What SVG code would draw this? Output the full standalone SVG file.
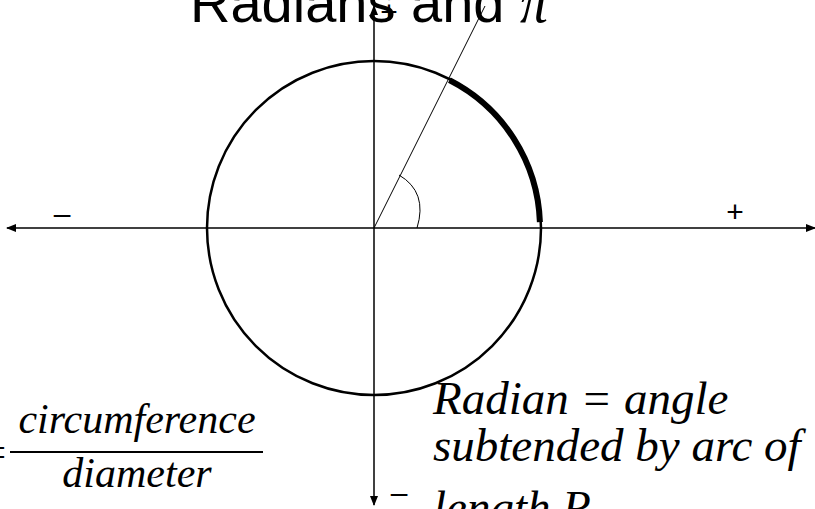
<svg xmlns="http://www.w3.org/2000/svg" width="815" height="509" viewBox="0 0 815 509">
<style>
.ax{stroke:#000;stroke-width:1.5;fill:none}
.thin{stroke:#000;stroke-width:1;fill:none}
.sans{font-family:"Liberation Sans",Arial,sans-serif;fill:#000}
.lbl{font-family:"Liberation Sans",Arial,sans-serif;fill:#000;font-size:30px;text-anchor:middle}
.it{font-family:"Liberation Serif","Times New Roman",serif;font-style:italic;fill:#000}
</style>
<defs>
<marker id="ah" viewBox="0 0 10 8" refX="9" refY="4" markerWidth="10" markerHeight="8" markerUnits="userSpaceOnUse" orient="auto">
<path d="M0,0 L10,4 L0,8 Z" fill="#000"/>
</marker>
</defs>
<rect width="815" height="509" fill="#fff"/>
<g id="connectors">
<line class="ax" x1="374" y1="228" x2="7" y2="228" marker-end="url(#ah)"/>
<line class="ax" x1="374" y1="228" x2="815" y2="228" marker-end="url(#ah)"/>
<line class="ax" x1="374" y1="228" x2="374" y2="6" marker-end="url(#ah)"/>
<line class="ax" x1="374" y1="228" x2="374" y2="505" marker-end="url(#ah)"/>
</g>
<g id="circle">
<circle cx="374" cy="228" r="167" fill="none" stroke="#000" stroke-width="2.5"/>
<path d="M449.4,80.2 A166,166 0 0 1 539.9,222.2" fill="none" stroke="#000" stroke-width="6"/>
</g>
<g id="radius">
<line class="thin" x1="374" y1="228" x2="485" y2="6"/>
<path class="thin" d="M399,175 Q428,192 417,228"/>
</g>
<g id="axis-labels">
<text class="lbl" x="62" y="224">–</text>
<text class="lbl" x="735" y="222">+</text>
<text class="lbl" x="389" y="22">+</text>
<text class="lbl" x="399" y="503">–</text>
</g>
<g id="title">
<text class="sans" x="190" y="22" font-size="56">Radians and <tspan font-family="'Liberation Serif',serif" font-style="italic">π</tspan></text>
</g>
<g id="formula">
<text class="it" x="8" y="466" font-size="42" text-anchor="end">=</text>
<text class="it" x="137" y="433" font-size="42" text-anchor="middle">circumference</text>
<line x1="10" y1="452" x2="263" y2="452" stroke="#000" stroke-width="2"/>
<text class="it" x="137" y="487" font-size="42" text-anchor="middle">diameter</text>
</g>
<g id="definition">
<text class="it" x="433" y="414" font-size="47">Radian = angle</text>
<text class="it" x="433" y="461" font-size="47">subtended by arc of</text>
<text class="it" x="433" y="523" font-size="47">length R</text>
</g>
</svg>
